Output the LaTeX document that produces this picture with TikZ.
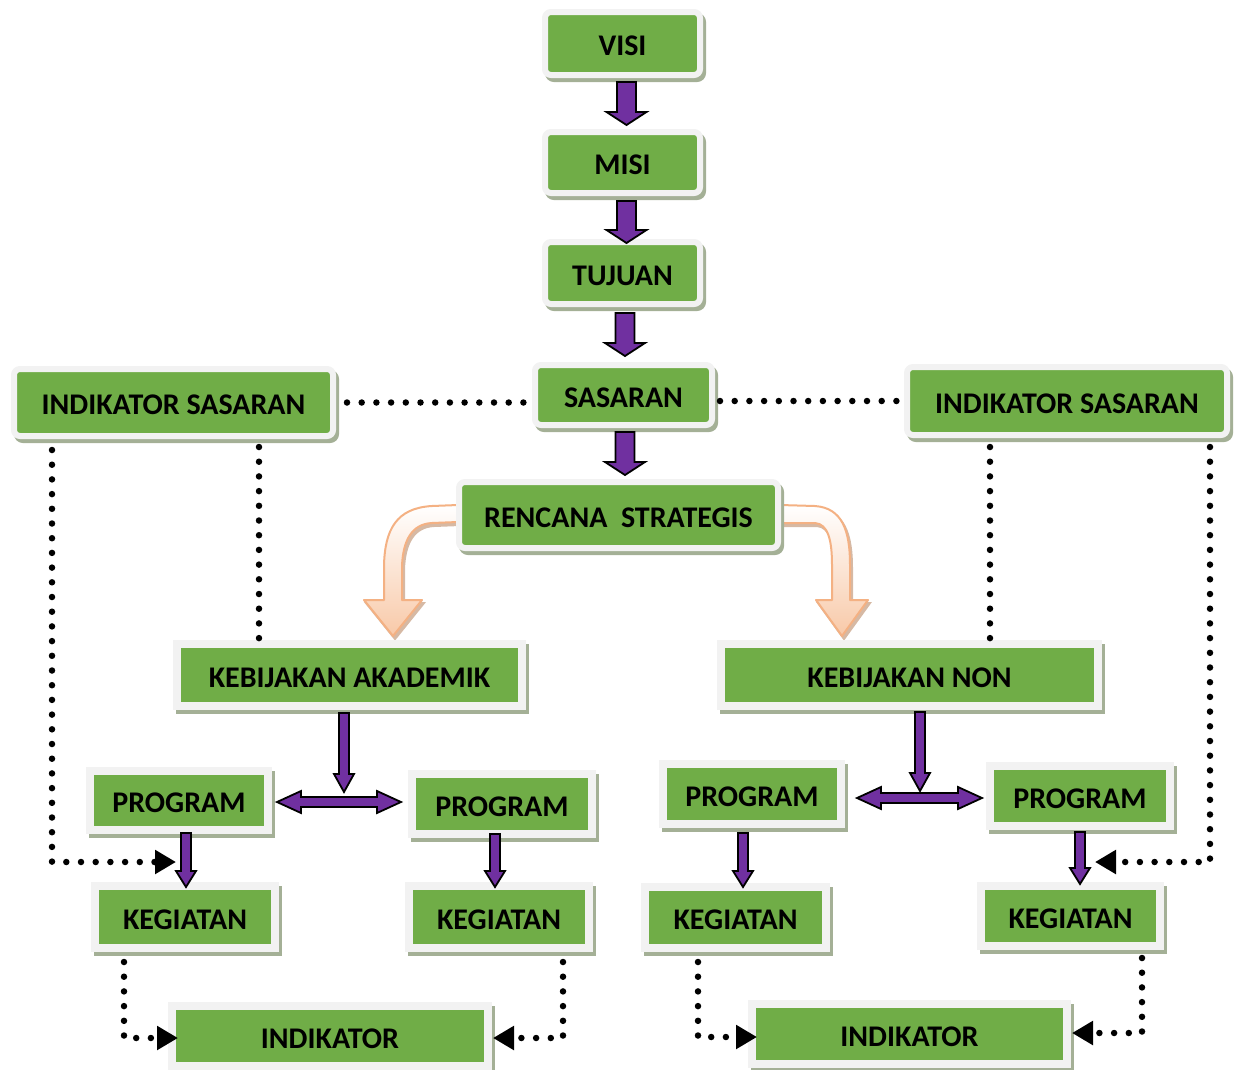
\documentclass[tikz,border=0pt]{standalone}
\usepackage{fontspec}
\setmainfont{Carlito}
\usetikzlibrary{calc,arrows.meta}
\definecolor{boxgreen}{HTML}{70AD47}
\definecolor{boxrim}{HTML}{F2F2F2}
\definecolor{boxshadow}{HTML}{A4B096}
\definecolor{arrowpurple}{HTML}{7030A0}
\definecolor{peach}{HTML}{F4B183}
\definecolor{peachlight}{HTML}{F8C9A8}
\definecolor{peachshadow}{HTML}{D6B9A4}
\tikzset{
  boxtext/.style={font=\bfseries\fontsize{30}{35}\selectfont, text height=24pt, text depth=0pt, inner sep=0pt, align=center},
  roundbox/.style={boxtext, fill=boxgreen, draw=boxrim, line width=6pt, rounded corners=6pt, outer sep=3pt,
    preaction={draw=boxshadow, fill=boxshadow, line width=6pt, transform canvas={xshift=3pt, yshift=-4pt}}},
  squarebox/.style={boxtext, fill=boxgreen, draw=boxrim, line width=8pt, outer sep=4pt,
    preaction={draw=boxshadow, fill=boxshadow, line width=8pt, transform canvas={xshift=3pt, yshift=-4pt}}},
  blockarrow/.style={fill=arrowpurple, draw=black, line width=1.8pt, line join=miter},
  dotline/.style={line width=6.5pt, line cap=round, dash pattern=on 0pt off 14.7pt},
  dottip/.style={dotline, -{Triangle[length=21pt,width=23pt]}},
  orangearrow/.style={draw=peach, line width=2pt, top color=white, bottom color=peachlight, line join=round,
    preaction={fill=peachshadow, draw=peachshadow, line width=2pt, transform canvas={xshift=2pt, yshift=-3pt}}}
}
\newcommand\vblock[5]{%
  \filldraw[blockarrow] let \p1=#1, \p2=#2 in
   (\x1-#3pt,\y1) -- (\x1+#3pt,\y1) -- (\x1+#3pt,\y2+#5pt) -- (\x1+#4pt,\y2+#5pt)
   -- (\x1,\y2) -- (\x1-#4pt,\y2+#5pt) -- (\x1-#3pt,\y2+#5pt) -- cycle;}
\newcommand\hblock[5]{%
  \filldraw[blockarrow] let \p1=#1, \p2=#2 in
   (\x1,\y1) -- (\x1+#5pt,\y1+#4pt) -- (\x1+#5pt,\y1+#3pt) -- (\x2-#5pt,\y1+#3pt) -- (\x2-#5pt,\y1+#4pt)
   -- (\x2,\y1) -- (\x2-#5pt,\y1-#4pt) -- (\x2-#5pt,\y1-#3pt) -- (\x1+#5pt,\y1-#3pt) -- (\x1+#5pt,\y1-#4pt) -- cycle;}
\begin{document}
\begin{tikzpicture}[x=1pt,y=-1pt]
\useasboundingbox (0,0) rectangle (1235,1069);

% curved orange arrows (behind boxes)
\path[orangearrow] (458,505) -- (432,506) .. controls (396,508) and (385,530) .. (384,565) -- (384,600) -- (364,600)
  -- (393,636) coordinate (tipL) -- (422,600) -- (402,600) -- (402,566) .. controls (403,540) and (412,524) .. (432,523) -- (458,522) -- cycle;
\path[orangearrow] (780,505) -- (815,506) .. controls (842,508) and (850,530) .. (850,565) -- (850,600) -- (868,600)
  -- (842,636) coordinate (tipR) -- (816,600) -- (832,600) -- (832,565) .. controls (832,540) and (828,524) .. (815,523) -- (780,523) -- cycle;

% rounded boxes
\node[roundbox, minimum width=155pt, minimum height=63pt] (visi) at (622.5,43.5) {VISI};
\node[roundbox, minimum width=155pt, minimum height=61pt] (misi) at (622.5,162.5) {MISI};
\node[roundbox, minimum width=155pt, minimum height=62pt] (tujuan) at (622.5,273) {TUJUAN};
\node[roundbox, minimum width=177pt, minimum height=60pt] (sas) at (623.5,395) {SASARAN};
\node[roundbox, minimum width=319pt, minimum height=67pt] (indL) at (173.5,402.5) {INDIKATOR SASARAN};
\node[roundbox, minimum width=320pt, minimum height=68pt] (indR) at (1067,401) {INDIKATOR SASARAN};
\node[roundbox, minimum width=319pt, minimum height=66pt] (ren) at (618.5,515) {RENCANA\ \ STRATEGIS};

% square boxes
\node[squarebox, minimum width=345pt, minimum height=62pt] (kebA) at (349.5,675) {KEBIJAKAN AKADEMIK};
\node[squarebox, minimum width=377pt, minimum height=62pt] (kebN) at (909.5,675) {KEBIJAKAN NON};
\node[squarebox, minimum width=178pt, minimum height=59pt] (prog1) at (179,800.5) {PROGRAM};
\node[squarebox, minimum width=180pt, minimum height=60pt] (prog2) at (502,804) {PROGRAM};
\node[squarebox, minimum width=178pt, minimum height=60pt] (prog3) at (752,794) {PROGRAM};
\node[squarebox, minimum width=180pt, minimum height=60pt] (prog4) at (1080,796) {PROGRAM};
\node[squarebox, minimum width=180pt, minimum height=62pt] (keg1) at (185,917) {KEGIATAN};
\node[squarebox, minimum width=180pt, minimum height=62pt] (keg2) at (499,917) {KEGIATAN};
\node[squarebox, minimum width=181pt, minimum height=61pt] (keg3) at (735.5,917.5) {KEGIATAN};
\node[squarebox, minimum width=179pt, minimum height=60pt] (keg4) at (1070.5,916) {KEGIATAN};
\node[squarebox, minimum width=316pt, minimum height=60pt] (ind1) at (330,1036) {INDIKATOR};
\node[squarebox, minimum width=315pt, minimum height=60pt] (ind2) at (909.5,1034) {INDIKATOR};

% purple block arrows (top chain)
\vblock{($(visi.south)+(4,4)$)}{($(misi.north)+(0,-4)$)}{9.5}{20}{13}
\vblock{($(misi.south)+(4,5)$)}{($(tujuan.north)+(0,4)$)}{9.5}{20}{13}
\vblock{($(tujuan.south)+(2.5,6)$)}{($(sas.north)+(0,-6)$)}{9.5}{20}{13}
\vblock{($(sas.south)+(1.5,4)$)}{($(ren.north)+(0,-4)$)}{9.5}{20}{13}

% double arrows
\coordinate (dAl) at ($(prog1.east)+(5,1.5)$);
\coordinate (dAr) at ($(prog2.west)+(-7,0)$);
\coordinate (dNl) at ($(prog3.east)+(12,4)$);
\coordinate (dNr) at ($(prog4.west)+(-4,0)$);
\hblock{(dAl)}{(dAr)}{5}{11}{24}
\hblock{(dNl)}{(dNr)}{5}{11}{24}

% lower vertical arrows
\vblock{($(kebA.south)+(-5.5,3)$)}{($(dAl)+(0,-10)$)}{5}{10}{18}
\vblock{($(kebN.south)+(10.5,2)$)}{($(dNl)+(0,-7)$)}{5}{10}{18}
\vblock{($(prog1.south)+(7,-1)$)}{($(keg1.north)+(0,5)$)}{5}{10}{16}
\vblock{($(prog2.south)+(-7,-4)$)}{($(keg2.north)+(0,5)$)}{5}{10}{16}
\vblock{($(prog3.south)+(-9,5)$)}{($(keg3.north)+(0,4)$)}{5}{10}{16}
\vblock{($(prog4.south)+(0,2)$)}{($(keg4.north)+(0,2)$)}{5}{10}{16}

% dotted connectors
\draw[dotline] ($(indL.east)+(11,0)$) -- ($(sas.west |- indL.east)+(-4,0)$);
\draw[dotline] ($(sas.east |- indR.west)+(5,0)$) -- ($(indR.west)+(-7,0)$);

\coordinate (t3) at (176,862);
\coordinate (t6) at (1095,862);
\draw[dottip] ($(indL.south west)+(41,11)$) |- (t3);
\draw[dotline] ($(indL.south west)+(248,8)$) coordinate (s4) -- (s4 |- kebA.north);
\draw[dotline] ($(indR.south west)+(86,9)$) coordinate (s5) -- (s5 |- kebN.north);
\draw[dottip] ($(indR.south east)+(-20,9)$) |- (t6);

\draw[dottip] ($(keg1.south west)+(33,10)$) |- ($(ind1.west)+(10,2)$);
\draw[dottip] ($(keg2.south east)+(-30,10)$) |- ($(ind1.east)+(1,2)$);
\draw[dottip] ($(keg3.south west)+(57,10)$) |- ($(ind2.west)+(9,3)$);
\draw[dottip] ($(keg4.south east)+(-22,8)$) |- ($(ind2.east)+(1,-1)$);
\end{tikzpicture}
\end{document}
